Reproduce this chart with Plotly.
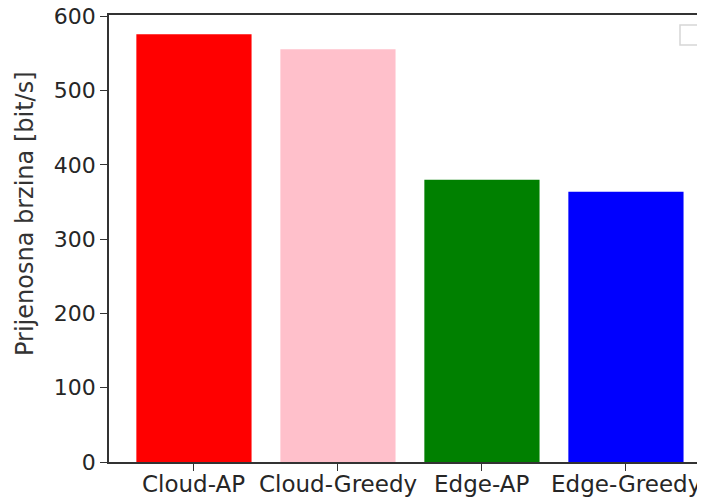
import plotly.graph_objects as go

# data
categories = ['Cloud-AP', 'Cloud-Greedy', 'Edge-AP', 'Edge-Greedy']
values = [576, 556, 380, 364]
colors = ['#ff0000', '#ffc0cb', '#008000', '#0000ff']
y_ticks = [0, 100, 200, 300, 400, 500, 600]

# the page body has an 8px margin, so the figure is a bit smaller than the window
OFF = 8
W, H = 705 - OFF, 497 - OFF
L, R, T, B = 109 - OFF, 0, 15 - OFF, 497 - 462
PW, PH = W - L - R, H - T - B

fig = go.Figure()
fig.add_trace(go.Bar(
    x=list(range(len(categories))), y=values, width=0.8,
    marker=dict(color=colors, line=dict(width=0)),
    showlegend=False,
))

axis_font = dict(family='DejaVu Sans', size=22, color='#262626')

fig.update_layout(
    width=W, height=H,
    margin=dict(l=L, r=R, t=T, b=B, autoexpand=False),
    paper_bgcolor='white', plot_bgcolor='white',
    xaxis=dict(
        range=[-0.59, 3.549], tickmode='array',
        tickvals=list(range(len(categories))), showticklabels=False,
        showgrid=False, zeroline=False,
        showline=True, linecolor='#333333', linewidth=1.6, mirror=True,
        ticks='outside', ticklen=7, tickwidth=1.4, tickcolor='#333333',
        automargin=False,
    ),
    yaxis=dict(
        range=[0, 602], tickmode='array', tickvals=y_ticks,
        showgrid=False, zeroline=False,
        showline=True, linecolor='#333333', linewidth=1.6,
        ticks='outside', ticklen=7, tickwidth=1.4, tickcolor='#333333',
        tickfont=axis_font, automargin=False, ticklabeloverflow='allow',
    ),
)

# category labels, set a little closer to the axis than plotly's own tick labels
for i, name in enumerate(categories):
    fig.add_annotation(text=name, x=i, xref='x', y=0, yref='paper',
                       yanchor='top', yshift=-7, showarrow=False,
                       font=dict(family='DejaVu Sans', size=23, color='#262626'))

# y-axis title as annotation (sits a bit above the axis centre in the original)
fig.add_annotation(
    text='Prijenosna brzina [bit/s]', textangle=-90,
    xref='paper', yref='paper', x=(25 - OFF - L) / PW, y=(462 - 214) / 447,
    xanchor='center', yanchor='middle', showarrow=False,
    font=dict(family='DejaVu Sans', size=24, color='#333333'),
)

# empty legend frame in the top right corner
x0, x1 = (680 - OFF - L) / PW, (700 - OFF - L) / PW
y0, y1 = (462 - 45) / 447, (462 - 25) / 447
fig.add_shape(type='rect', xref='paper', yref='paper',
              x0=x0, x1=x1, y0=y0, y1=y1,
              line=dict(color='#d6d6d6', width=1.5), fillcolor='white')

fig.write_html('out.html')
